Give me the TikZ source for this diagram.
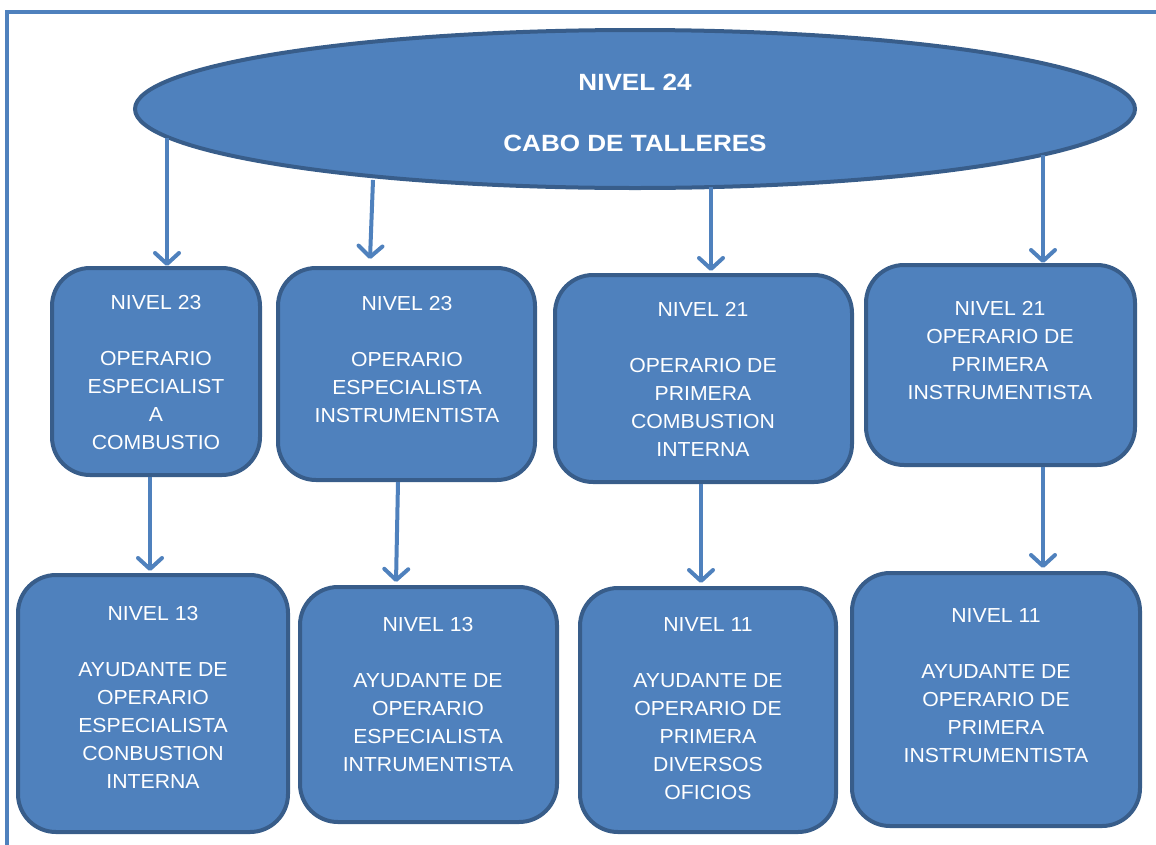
\documentclass[tikz,border=0pt]{standalone}
\usepackage{fontspec}
\setmainfont{Liberation Sans}[FakeStretch=1.045]
\newfontfamily\titlefont{Liberation Sans}[FakeStretch=1.11]
\usetikzlibrary{shapes.geometric,arrows.meta}
\definecolor{boxfill}{HTML}{4F81BD}
\definecolor{boxline}{HTML}{385D8A}
\tikzset{
  box/.style={draw=boxline, fill=boxfill, line width=4pt, rounded corners=38pt, inner sep=0pt},
  txt/.style={text=white, align=center, font=\fontsize{20.3}{28}\selectfont, inner sep=0pt},
  arr/.style={draw=boxfill, line width=4pt,
    -{Straight Barb[length=11pt,width=24pt,line cap=round,line join=round]}},
  frame/.style={draw=boxfill, line width=4pt},
}
\begin{document}
\begin{tikzpicture}[x=1pt,y=-1pt]
\useasboundingbox (0,0) rectangle (1156,844);
% frame
\draw[frame] (7,846) -- (7,12) -- (1158,12);
% top ellipse
\node[ellipse, draw=boxline, fill=boxfill, line width=4pt, minimum width=1000pt, minimum height=158pt, inner sep=0pt, outer sep=0pt] (ell) at (635,109) {};
\node[text=white, align=center, inner sep=0pt, font=\titlefont\bfseries\fontsize{23.5}{30.5}\selectfont] (title) at (635,112.5) {NIVEL 24\\[30.5pt]CABO DE TALLERES};
% row 1
\node[box, minimum width=208pt, minimum height=207pt] (b1) at (156,371.5) {};
\node[box, minimum width=257pt, minimum height=212pt] (b2) at (406.5,374) {};
\node[box, minimum width=297pt, minimum height=207pt] (b3) at (703.5,378.5) {};
\node[box, minimum width=269pt, minimum height=200pt] (b4) at (1000.5,365) {};
\node[txt] (t1) at (156,372.5) {NIVEL 23\\[28pt]OPERARIO\\ESPECIALIST\\A\\COMBUSTIO};
\node[txt] (t2) at (407,359.5) {NIVEL 23\\[28pt]OPERARIO\\ESPECIALISTA\\INSTRUMENTISTA};
\node[txt] (t3) at (703,379.5) {NIVEL 21\\[28pt]OPERARIO DE\\PRIMERA\\COMBUSTION\\INTERNA};
\node[txt] (t4) at (1000,350.5) {NIVEL 21\\OPERARIO DE\\PRIMERA\\INSTRUMENTISTA};
% row 2
\node[box, minimum width=270pt, minimum height=257pt] (c1) at (153,703.5) {};
\node[box, minimum width=257pt, minimum height=235pt] (c2) at (428.5,704.5) {};
\node[box, minimum width=256pt, minimum height=244pt] (c3) at (708,710) {};
\node[box, minimum width=288pt, minimum height=253pt] (c4) at (996,699.5) {};
\node[txt] (u1) at (153,697) {NIVEL 13\\[28pt]AYUDANTE DE\\OPERARIO\\ESPECIALISTA\\CONBUSTION\\INTERNA};
\node[txt] (u2) at (428,694) {NIVEL 13\\[28pt]AYUDANTE DE\\OPERARIO\\ESPECIALISTA\\INTRUMENTISTA};
\node[txt] (u3) at (708,708.5) {NIVEL 11\\[28pt]AYUDANTE DE\\OPERARIO DE\\PRIMERA\\DIVERSOS\\OFICIOS};
\node[txt] (u4) at (996,685.5) {NIVEL 11\\[28pt]AYUDANTE DE\\OPERARIO DE\\PRIMERA\\INSTRUMENTISTA};
% arrows from ellipse
\draw[arr] ([xshift=-468pt,yshift=-29pt]ell.center) -- ([xshift=11pt]b1.north);
\draw[arr] ([xshift=-262pt,yshift=-71pt]ell.center) -- ([xshift=-36.5pt,yshift=7pt]b2.north);
\draw[arr] ([xshift=76pt,yshift=-78pt]ell.center) -- ([xshift=7.5pt,yshift=2pt]b3.north);
\draw[arr] ([xshift=408pt,yshift=-46pt]ell.center) -- ([xshift=42.5pt]b4.north);
% arrows row 1 -> row 2
\draw[arr] ([xshift=-6pt]b1.south) -- ([xshift=-3pt,yshift=2pt]c1.north);
\draw[arr] ([xshift=-8.5pt]b2.south) -- ([xshift=-32.5pt,yshift=3pt]c2.north);
\draw[arr] ([xshift=-2.5pt]b3.south) -- ([xshift=-7pt,yshift=3pt]c3.north);
\draw[arr] ([xshift=42.5pt]b4.south) -- ([xshift=47pt,yshift=3pt]c4.north);
\end{tikzpicture}
\end{document}
